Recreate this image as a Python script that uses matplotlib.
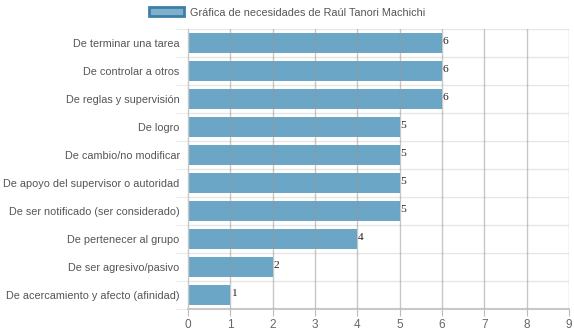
import matplotlib
matplotlib.use("Agg")
import matplotlib.pyplot as plt
from matplotlib.patches import Patch

categories = [
    "De terminar una tarea",
    "De controlar a otros",
    "De reglas y supervisión",
    "De logro",
    "De cambio/no modificar",
    "De apoyo del supervisor o autoridad",
    "De ser notificado (ser considerado)",
    "De pertenecer al grupo",
    "De ser agresivo/pasivo",
    "De acercamiento y afecto (afinidad)",
]
values = [6, 6, 6, 5, 5, 5, 5, 4, 2, 1]
x_ticks = list(range(0, 10))
series_name = "Gráfica de necesidades de Raúl Tanori Machichi"

W, H = 574, 334
fig = plt.figure(figsize=(W / 100, H / 100), dpi=100)
left, right, top, bottom = 188, 569, 29, 309
ax = fig.add_axes([left / W, 1 - bottom / H, (right - left) / W, (bottom - top) / H])

bar_color = "#5b9dc0"
n = len(categories)
ypos = list(range(n))
ax.barh(ypos, values, height=0.72, color=bar_color, alpha=0.9, zorder=2)

for y, v in zip(ypos, values):
    ax.text(v + 0.02, y - 0.05, str(v), va="center", ha="left", fontsize=8.2,
            family="Liberation Serif", color="#222222", zorder=4)

ax.set_xlim(0, 9)
ax.set_ylim(n - 0.5, -0.5)

# vertical gridlines drawn over the bars
for xv in x_ticks[1:]:
    ax.axvline(xv, color="#999999", lw=1, alpha=0.55, zorder=3)
# horizontal separators between categories
for k in range(n - 1):
    ax.axhline(k + 0.5, color="#e6e6e6", lw=1, zorder=1)
ax.axhline(-0.5, color="#e6e6e6", lw=1, zorder=1)

for s in ["top", "right"]:
    ax.spines[s].set_visible(False)
ax.spines["bottom"].set_color("#c8c8c8")
ax.spines["bottom"].set_linewidth(1.5)
ax.spines["left"].set_color("#c8c8c8")
ax.spines["left"].set_linewidth(1)

ax.set_xticks(x_ticks)
ax.set_xticklabels([str(t) for t in x_ticks], fontsize=8.5, color="#666666",
                   family="Liberation Sans")
ax.tick_params(axis="x", length=5, color="#bbbbbb", pad=2)

ax.set_yticks(ypos)
ax.set_yticklabels(categories, fontsize=7.8, color="#555555", family="Liberation Sans")
ax.tick_params(axis="y", length=0, pad=6)
ax.set_yticks([k + 0.5 for k in range(-1, n)], minor=True)
ax.tick_params(axis="y", which="minor", length=9, color="#e6e6e6")

handle = Patch(facecolor="#7fb1cf", edgecolor="#3d7fa8", linewidth=2)
leg = fig.legend([handle], [series_name], loc="center", bbox_to_anchor=(0.5, 1 - 12.5 / H),
                 frameon=False, handlelength=3.3, handleheight=0.9,
                 handletextpad=0.55, prop={"family": "Liberation Sans", "size": 7.8})
for t in leg.get_texts():
    t.set_color("#555555")

fig.savefig("out.png", dpi=100)
